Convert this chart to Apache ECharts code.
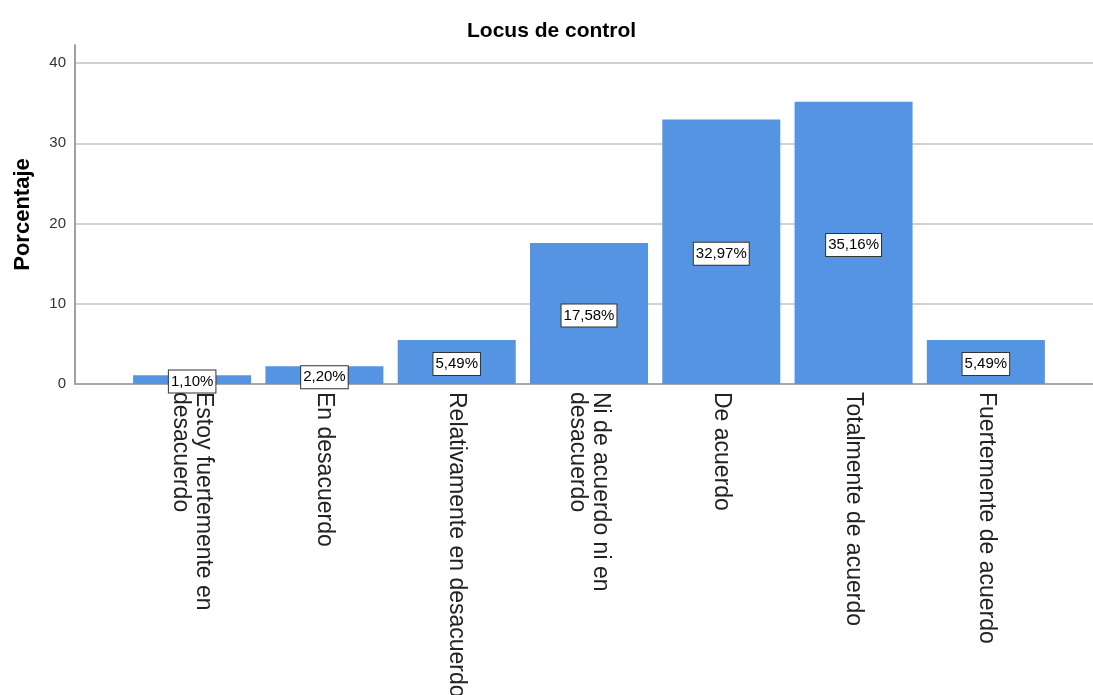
<!DOCTYPE html>
<html>
<head>
<meta charset="utf-8">
<script src="https://cdn.jsdelivr.net/npm/echarts@6/dist/echarts.min.js"></script>
<style>
html,body{margin:0;padding:0;background:#fff;}
#c{width:1093px;height:695px;}
</style>
</head>
<body>
<div id="c"></div>
<script>
const categories = [
  "Estoy fuertemente en\ndesacuerdo",
  "En desacuerdo",
  "Relativamente en desacuerdo",
  "Ni de acuerdo ni en\ndesacuerdo",
  "De acuerdo",
  "Totalmente de acuerdo",
  "Fuertemente de acuerdo"
];
const percentages = [1.10, 2.20, 5.49, 17.58, 32.97, 35.16, 5.49];
const yTicks = [0, 10, 20, 30, 40];

const FONT = '"Liberation Sans", Arial, sans-serif';
const chart = echarts.init(document.getElementById('c'), null, {renderer: 'canvas'});

const option = {
  backgroundColor: '#ffffff',
  animation: false,
  title: {
    text: 'Locus de control',
    left: 462,
    top: 16,
    textStyle: {fontFamily: FONT, fontSize: 21, fontWeight: 'bold', color: '#000'}
  },
  grid: [
    {left: 75, right: 0, top: 63, bottom: 311, containLabel: false, outerBoundsMode: 'none'},
    {left: 126, right: 41, top: 63, bottom: 311, containLabel: false, outerBoundsMode: 'none'},
    {left: 75, right: 0, top: 45, bottom: 311, containLabel: false, outerBoundsMode: 'none'}
  ],
  xAxis: [
    {gridIndex: 0, type: 'category', data: categories, show: true,
     axisLine: {show: true, lineStyle: {color: '#a8a8a8', width: 2}},
     axisTick: {show: false}, axisLabel: {show: false}, splitLine: {show: false}},
    {gridIndex: 1, type: 'category', data: categories,
     axisLine: {show: false}, axisTick: {show: false},
     axisLabel: {show: true, rotate: -90, interval: 0, margin: 8,
       fontFamily: FONT, fontSize: 23, lineHeight: 23, color: '#222'}},
    {gridIndex: 2, type: 'value', show: false}
  ],
  yAxis: [
    {gridIndex: 0, type: 'value', min: yTicks[0], max: yTicks[yTicks.length - 1], interval: 10,
     axisLine: {show: false}, axisTick: {show: false},
     axisLabel: {show: true, margin: 9, fontFamily: FONT, fontSize: 15, color: '#333'},
     splitLine: {show: true, lineStyle: {color: '#d2d2d2', width: 2}}},
    {gridIndex: 1, type: 'value', min: yTicks[0], max: yTicks[yTicks.length - 1], show: false},
    {gridIndex: 2, type: 'value', min: 0, max: 1,
     axisLine: {show: true, lineStyle: {color: '#a0a0a0', width: 2}},
     axisTick: {show: false}, axisLabel: {show: false}, splitLine: {show: false},
     name: 'Porcentaje', nameLocation: 'middle', nameGap: 41, nameRotate: 90,
     nameTextStyle: {fontFamily: FONT, fontSize: 22, fontWeight: 'bold', color: '#000'}}
  ],
  series: [{
    type: 'bar',
    xAxisIndex: 1,
    yAxisIndex: 1,
    data: percentages,
    barWidth: 118,
    itemStyle: {color: '#5593e3'},
    label: {
      show: true,
      position: 'inside',
      offset: [0, 2],
      formatter: p => p.value.toFixed(2).replace('.', ',') + '%',
      fontFamily: FONT, fontSize: 15, color: '#000',
      backgroundColor: '#fff',
      borderColor: '#333', borderWidth: 1,
      padding: [4, 2, 3, 2]
    }
  }]
};
chart.setOption(option);
</script>
</body>
</html>
